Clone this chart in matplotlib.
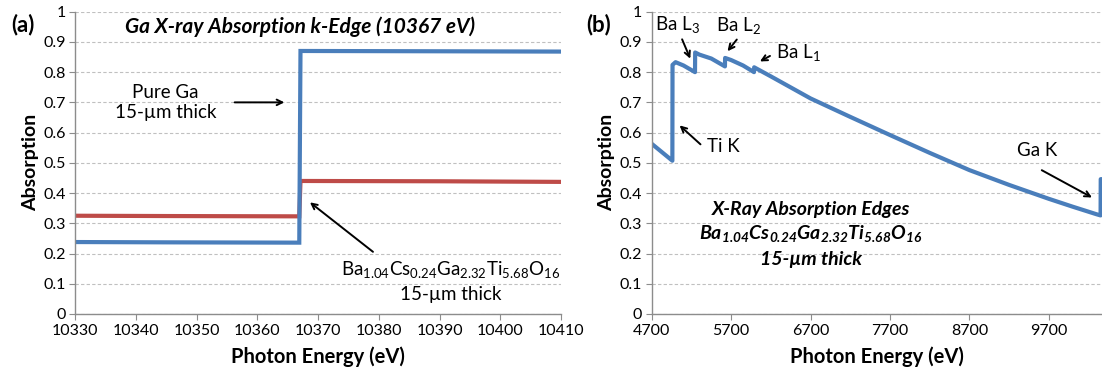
import numpy as np
import matplotlib
matplotlib.use("Agg")
import matplotlib.pyplot as plt

plt.rcParams['font.family'] = ['Lato', 'DejaVu Sans']

# panel (a): Ga K-edge step
ga_e = [10330, 10345, 10366.9, 10367.1, 10390, 10410]
pure_ga = [0.238, 0.237, 0.236, 0.870, 0.869, 0.868]
compound = [0.325, 0.324, 0.323, 0.440, 0.439, 0.437]

# panel (b): wide scan of the compound
wide_e = [4700, 4830, 4960, 4962, 5000, 5100, 5245, 5247, 5300, 5450, 5622, 5624,
          5700, 5850, 5988, 5990, 6200, 6700, 7200, 7700, 8200, 8700, 9200, 9700,
          10000, 10300, 10352, 10354, 10370]
wide_abs = [0.563, 0.535, 0.507, 0.824, 0.833, 0.822, 0.800, 0.865, 0.858, 0.845, 0.819, 0.847,
            0.840, 0.822, 0.800, 0.816, 0.786, 0.713, 0.652, 0.592, 0.533, 0.476, 0.427, 0.381,
            0.355, 0.330, 0.326, 0.446, 0.446]

blue = '#4a7ebb'
red = '#be4b48'
gray = '#8c8c8c'
fs = 13.5

fig = plt.figure(figsize=(11.02, 3.73), dpi=100)
ax1 = fig.add_axes([0.0683, 0.1582, 0.4407, 0.8105])
ax2 = fig.add_axes([0.5914, 0.1582, 0.4086, 0.8105])


def style(ax):
    for s in ['top', 'right']:
        ax.spines[s].set_visible(False)
    for s in ['left', 'bottom']:
        ax.spines[s].set_color(gray)
        ax.spines[s].set_linewidth(1.0)
    ax.set_ylim(0, 1)
    ax.set_yticks(np.arange(0, 1.01, 0.1))
    ax.set_yticklabels(['0'] + ['%.1f' % v for v in np.arange(0.1, 0.95, 0.1)] + ['1'])
    ax.tick_params(direction='out', length=4, color=gray, labelsize=11.5, pad=3)
    ax.grid(axis='y', linestyle=(0, (3, 2)), color='#c0c0c0', linewidth=0.8)
    ax.set_axisbelow(True)
    ax.set_xlabel('Photon Energy (eV)', fontsize=14.5, fontweight='bold', labelpad=6)
    ax.set_ylabel('Absorption', fontsize=14, fontweight='bold', labelpad=3)


style(ax1)
ax1.plot(ga_e, compound, color=red, lw=3, solid_joinstyle='miter')
ax1.plot(ga_e, pure_ga, color=blue, lw=3, solid_joinstyle='miter')
ax1.set_xlim(10330, 10410)
ax1.set_xticks(range(10330, 10411, 10))
ax1.text(10367, 0.95, 'Ga X-ray Absorption k-Edge (10367 eV)', ha='center', va='center',
         fontsize=15, fontweight='bold', style='italic')
ax1.text(10344.9, 0.70, 'Pure Ga\n15-µm thick', ha='center', va='center', fontsize=fs,
         linespacing=1.2)
ax1.annotate('', xy=(10364.9, 0.70), xytext=(10355.8, 0.70),
             arrowprops=dict(arrowstyle='->', color='black', lw=1.4))
ax1.text(10391.8, 0.143,
         r'Ba$_{\mathregular{1.04}}$Cs$_{\mathregular{0.24}}$Ga$_{\mathregular{2.32}}$'
         r'Ti$_{\mathregular{5.68}}$O$_{\mathregular{16}}$',
         ha='center', va='center', fontsize=fs)
ax1.text(10391.8, 0.066, '15-µm thick', ha='center', va='center', fontsize=fs)
ax1.annotate('', xy=(10368.3, 0.375), xytext=(10379.4, 0.20),
             arrowprops=dict(arrowstyle='->', color='black', lw=1.4))

style(ax2)
ax2.plot(wide_e, wide_abs, color=blue, lw=3)
ax2.set_xlim(4700, 10370)
ax2.set_xticks(range(4700, 9701, 1000))

arrow = dict(arrowstyle='->', color='black', lw=1.4)
ax2.text(5025, 0.955, r'Ba L$_{\mathregular{3}}$', ha='center', va='center', fontsize=fs)
ax2.annotate('', xy=(5199, 0.836), xytext=(5069, 0.917), arrowprops=arrow)
ax2.text(5793, 0.952, r'Ba L$_{\mathregular{2}}$', ha='center', va='center', fontsize=fs)
ax2.annotate('', xy=(5633, 0.862), xytext=(5793, 0.915), arrowprops=arrow)
ax2.text(6262, 0.862, r'Ba L$_{\mathregular{1}}$', ha='left', va='center', fontsize=fs)
ax2.annotate('', xy=(6032, 0.831), xytext=(6220, 0.858), arrowprops=arrow)
ax2.text(5394, 0.555, 'Ti K', ha='left', va='center', fontsize=fs)
ax2.annotate('', xy=(5025, 0.63), xytext=(5340, 0.555), arrowprops=arrow)
ax2.text(9559, 0.541, 'Ga K', ha='center', va='center', fontsize=fs)
ax2.annotate('', xy=(10275, 0.381), xytext=(9581, 0.48), arrowprops=arrow)

ax2.text(6704, 0.345, 'X-Ray Absorption Edges', ha='center', va='center', fontsize=fs + 0.5,
         fontweight='bold', style='italic')
ax2.text(6704, 0.262,
         r'Ba$_{\mathregular{1.04}}$Cs$_{\mathregular{0.24}}$Ga$_{\mathregular{2.32}}$'
         r'Ti$_{\mathregular{5.68}}$O$_{\mathregular{16}}$',
         ha='center', va='center', fontsize=fs + 0.5, fontweight='bold', style='italic')
ax2.text(6704, 0.181, '15-µm thick', ha='center', va='center', fontsize=fs + 0.5,
         fontweight='bold', style='italic')

fig.text(0.021, 0.933, '(a)', ha='center', va='center', fontsize=16, fontweight='bold')
fig.text(0.543, 0.933, '(b)', ha='center', va='center', fontsize=16, fontweight='bold')

fig.savefig('out.png', dpi=100)
